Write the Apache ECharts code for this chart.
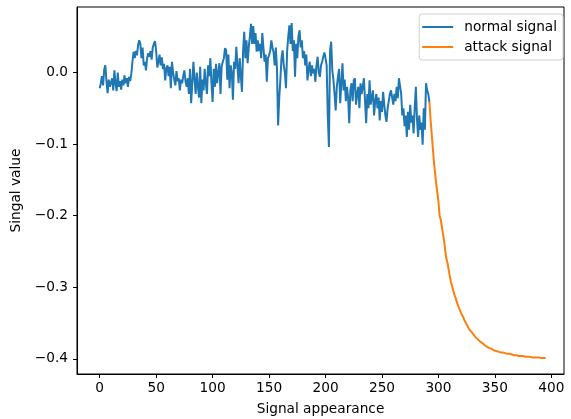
<!DOCTYPE html>
<html>
<head>
<meta charset="utf-8">
<script src="https://cdn.jsdelivr.net/npm/echarts@6/dist/echarts.min.js"></script>
<style>html,body{margin:0;padding:0;background:#fff;}#c{width:571px;height:419px;}</style>
</head>
<body>
<div id="c"></div>
<script>
// normal signal: indices 0..292
const normalValues = [
 -0.022,-0.015,-0.005,-0.018,0.004,0.010,-0.012,-0.029,-0.010,-0.020,
 -0.022,-0.008,-0.025,0.003,-0.015,-0.026,0.000,-0.020,-0.012,-0.024,
 -0.010,-0.018,-0.004,-0.015,-0.008,-0.020,-0.006,-0.012,-0.002,0.015,
 0.029,0.020,0.030,0.024,0.038,0.045,0.040,0.020,0.035,0.010,
 0.015,0.003,0.020,0.027,0.022,0.030,0.018,0.035,0.040,0.044,
 0.030,0.007,0.015,0.025,0.010,0.021,0.005,0.012,-0.011,0.005,
 0.010,-0.005,0.008,-0.022,0.015,0.000,-0.010,-0.018,0.002,-0.012,
 -0.008,-0.025,-0.010,-0.015,-0.005,0.003,-0.012,-0.020,-0.008,-0.030,
 0.005,-0.043,-0.015,0.015,-0.010,-0.030,0.000,-0.020,-0.035,0.008,
 -0.043,-0.010,-0.025,0.005,-0.015,-0.030,0.010,-0.005,0.020,-0.015,
 -0.041,0.005,-0.020,0.012,-0.015,0.000,0.013,-0.030,0.008,0.015,
 0.020,0.034,0.031,-0.010,0.025,-0.022,0.010,0.000,-0.038,0.015,
 0.005,0.036,0.010,-0.015,0.020,-0.005,-0.027,0.030,0.057,0.020,
 0.045,0.013,0.035,0.050,0.068,0.040,0.065,0.040,0.055,0.029,
 0.045,0.030,0.040,0.020,0.055,0.035,0.015,0.025,-0.013,0.020,
 0.024,0.030,0.045,0.035,0.028,0.010,0.035,0.005,-0.074,-0.036,
 -0.010,0.020,0.031,0.010,0.000,-0.022,0.030,0.050,0.066,0.040,
 0.069,0.030,0.045,-0.006,0.040,0.020,0.050,0.059,0.035,0.045,
 0.020,0.030,0.010,0.025,-0.011,0.005,0.015,-0.005,0.010,-0.001,
 0.005,-0.013,0.010,0.022,0.000,-0.006,0.010,0.015,0.022,0.028,
 0.020,0.010,-0.060,-0.104,0.030,0.043,0.003,-0.010,-0.030,-0.053,
 -0.020,-0.006,0.005,-0.043,-0.015,0.013,-0.025,-0.010,-0.040,-0.020,
 -0.035,-0.071,-0.025,-0.015,-0.040,-0.011,-0.008,-0.045,-0.030,-0.020,
 -0.050,-0.015,-0.030,-0.020,-0.008,-0.040,-0.071,-0.030,-0.050,-0.011,
 -0.045,-0.035,-0.025,-0.060,-0.040,-0.030,-0.050,-0.035,-0.067,-0.040,
 -0.055,-0.027,-0.045,-0.060,-0.069,-0.050,-0.040,-0.030,-0.025,-0.035,
 -0.045,-0.030,-0.040,-0.020,-0.036,-0.008,-0.006,-0.030,-0.060,-0.050,
 -0.075,-0.060,-0.090,-0.055,-0.080,-0.045,-0.070,-0.060,-0.085,-0.050,
 -0.020,-0.065,-0.090,-0.060,-0.080,-0.070,-0.101,-0.050,-0.080,-0.015,
 -0.025,-0.030,-0.041
];
// attack signal: indices 292..395
const attackStart = 292;
const attackValues = [
 -0.041,-0.065,-0.085,-0.105,-0.125,-0.140,-0.155,-0.168,-0.180,-0.200,
 -0.205,-0.206,-0.225,-0.235,-0.248,-0.260,-0.266,-0.275,-0.284,-0.292,
 -0.298,-0.304,-0.310,-0.314,-0.319,-0.324,-0.328,-0.332,-0.336,-0.339,
 -0.342,-0.346,-0.349,-0.352,-0.355,-0.358,-0.360,-0.362,-0.364,-0.366,
 -0.368,-0.370,-0.372,-0.373,-0.375,-0.376,-0.377,-0.378,-0.380,-0.381,
 -0.382,-0.383,-0.384,-0.385,-0.386,-0.386,-0.387,-0.388,-0.388,-0.389,
 -0.389,-0.390,-0.390,-0.391,-0.391,-0.391,-0.392,-0.392,-0.392,-0.393,
 -0.393,-0.393,-0.394,-0.394,-0.394,-0.395,-0.395,-0.395,-0.395,-0.396,
 -0.396,-0.396,-0.396,-0.396,-0.397,-0.397,-0.397,-0.397,-0.397,-0.397,
 -0.398,-0.398,-0.398,-0.398,-0.398,-0.398,-0.398,-0.398,-0.399,-0.399,
 -0.399,-0.399,-0.399,-0.399
];
const xTicks = [0, 50, 100, 150, 200, 250, 300, 350, 400];
const yTicks = [-0.4, -0.3, -0.2, -0.1, 0.0];
const seriesNames = ['normal signal', 'attack signal'];

const normalData = normalValues.map((v, i) => [i, v]);
const attackData = attackValues.map((v, i) => [attackStart + i, v]);

const font = 'DejaVu Sans';
const fs = 13.7;
const fmtY = v => { const s = (Math.abs(v) < 1e-9 ? 0 : v).toFixed(1); return s.replace('-', '\u2212'); };

const chart = echarts.init(document.getElementById('c'), null, {renderer: 'canvas'});
chart.setOption({
  animation: false,
  backgroundColor: '#fff',
  grid: {left: 77, right: 7, top: 7, bottom: 45, show: true, borderColor: '#000', borderWidth: 1,
         backgroundColor: 'transparent', outerBoundsMode: 'none', containLabel: false},
  legend: {
    orient: 'vertical', right: 8, top: 14,
    data: seriesNames,
    icon: 'rect', itemWidth: 31, itemHeight: 2, itemGap: 6,
    backgroundColor: '#fff', borderColor: '#d0d0d0', borderWidth: 1, borderRadius: 3,
    padding: [6, 6, 6, 3],
    textStyle: {fontFamily: font, fontSize: fs, lineHeight: 14, color: '#000', padding: [0, 0, 0, 6]}
  },
  xAxis: {
    type: 'value', min: -20.1, max: 411.2,
    name: 'Signal appearance', nameLocation: 'middle', nameGap: 28,
    nameTextStyle: {fontFamily: font, fontSize: fs, color: '#000'},
    axisLine: {show: true, onZero: false, lineStyle: {color: '#000', width: 1}},
    axisTick: {show: true, length: 4, lineStyle: {color: '#000'}, customValues: xTicks},
    axisLabel: {fontFamily: font, fontSize: fs, color: '#000', margin: 7, customValues: xTicks, formatter: v => String(v)},
    splitLine: {show: false}
  },
  yAxis: {
    type: 'value', min: -0.4212, max: 0.0915,
    name: 'Singal value', nameLocation: 'middle', nameGap: 50,
    nameTextStyle: {fontFamily: font, fontSize: fs, color: '#000'},
    axisLine: {show: true, onZero: false, lineStyle: {color: '#000', width: 1}},
    axisTick: {show: true, length: 4, lineStyle: {color: '#000'}, customValues: yTicks},
    axisLabel: {fontFamily: font, fontSize: fs, color: '#000', margin: 9, customValues: yTicks, formatter: fmtY},
    splitLine: {show: false}
  },
  series: [
    {name: seriesNames[0], type: 'line', data: normalData, showSymbol: false, symbol: 'none',
     lineStyle: {color: '#1f77b4', width: 2}, itemStyle: {color: '#1f77b4'}},
    {name: seriesNames[1], type: 'line', data: attackData, showSymbol: false, symbol: 'none',
     lineStyle: {color: '#ff7f0e', width: 2}, itemStyle: {color: '#ff7f0e'}}
  ]
});
</script>
</body>
</html>
